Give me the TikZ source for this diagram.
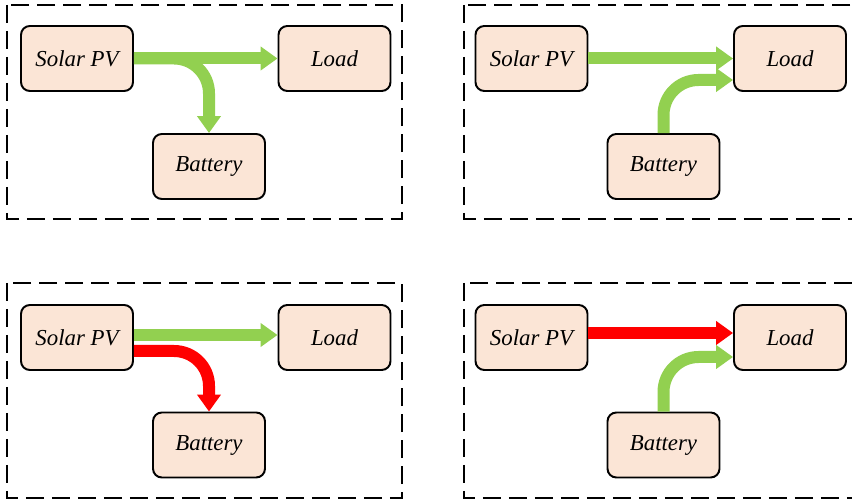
\documentclass[tikz,border=0pt]{standalone}
\usepackage{fontspec}
\setmainfont{Liberation Serif}
\usetikzlibrary{arrows.meta}
\definecolor{boxfill}{HTML}{FBE5D6}
\definecolor{flowgreen}{HTML}{92D050}
\definecolor{flowred}{HTML}{FF0000}
\tikzset{
    unit/.style={rectangle, rounded corners=5pt, draw, line width=1.1pt, fill=boxfill,
        minimum width=2.24cm, minimum height=1.3cm, inner sep=0pt,
        font=\fontsize{13}{15}\selectfont\itshape},
    frame/.style={line width=0.8pt, dash pattern=on 0.36cm off 0.16cm},
    flow/.style={line width=0.24cm, rounded corners=0.7cm,
        -{Triangle[length=0.34cm, width=0.46cm]}}
}
\begin{document}
\begin{tikzpicture}[x=0.02cm, y=-0.02cm]
    \useasboundingbox (0,0) rectangle (852,499);

    % Panel 1: PV feeds load and charges battery
    \draw[frame] (7,5) rectangle (402,219);
    \node[unit] (pv1) at (77,58.5) {Solar PV};
    \node[unit] (load1) at (334.5,58.5) {Load};
    \node[unit] (bat1) at (209,166.5) {Battery};
    \draw[flow, flowgreen] (pv1.east) -| (bat1.north);
    \draw[flow, flowgreen] (pv1.east) -- (load1.west);

    % Panel 2: PV and battery feed load
    \draw[frame] (464,5) rectangle (859,219);
    \node[unit] (pv2) at (531.5,58.5) {Solar PV};
    \node[unit] (load2) at (790,58.5) {Load};
    \node[unit] (bat2) at (663.5,166.5) {Battery};
    \draw[flow, flowgreen] (pv2.east) -- (load2.west);
    \draw[flow, flowgreen] (bat2.north) |- (load2.west |- 0,80);

    % Panel 3
    \draw[frame] (7,283) rectangle (402,498);
    \node[unit] (pv3) at (77,337.5) {Solar PV};
    \node[unit] (load3) at (334.5,337.5) {Load};
    \node[unit] (bat3) at (209,445) {Battery};
    \draw[flow, flowgreen] (pv3.east |- 0,335) -- (load3.west |- 0,335);
    \draw[flow, flowred] (pv3.east |- 0,351) -| (bat3.north);

    % Panel 4
    \draw[frame] (464,283) rectangle (859,498);
    \node[unit] (pv4) at (531.5,337.5) {Solar PV};
    \node[unit] (load4) at (790,337.5) {Load};
    \node[unit] (bat4) at (663.5,445) {Battery};
    \draw[flow, flowred] (pv4.east |- 0,333) -- (load4.west |- 0,333);
    \draw[flow, flowgreen] (bat4.north) |- (load4.west |- 0,357);
\end{tikzpicture}
\end{document}
